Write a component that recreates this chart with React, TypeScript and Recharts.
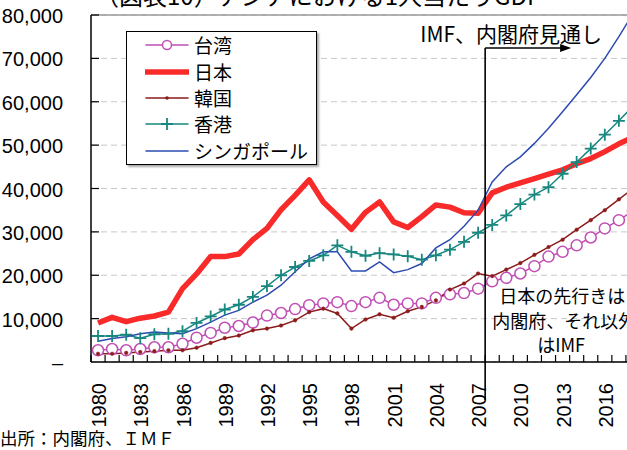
import { LineChart, Line, XAxis, YAxis, CartesianGrid, ReferenceLine, Legend } from 'recharts'

const JP = '"Noto Sans CJK JP", sans-serif'
const NUM = '"Liberation Sans", Arial, sans-serif'

const YEARS = [
  1980, 1981, 1982, 1983, 1984, 1985, 1986, 1987, 1988, 1989,
  1990, 1991, 1992, 1993, 1994, 1995, 1996, 1997, 1998, 1999,
  2000, 2001, 2002, 2003, 2004, 2005, 2006, 2007, 2008, 2009,
  2010, 2011, 2012, 2013, 2014, 2015, 2016, 2017, 2018
]
const LABEL_YEARS = [1980, 1983, 1986, 1989, 1992, 1995, 1998, 2001, 2004, 2007, 2010, 2013, 2016]
const Y_TICKS = [0, 10000, 20000, 30000, 40000, 50000, 60000, 70000, 80000]
const NAMES = ['台湾', '日本', '韓国', '香港', 'シンガポール']

// USD per person
const TAIWAN = [
  2700, 3000, 2700, 3000, 3400, 3400, 4200, 5600, 6700, 7900,
  8300, 9100, 10700, 11300, 12200, 13100, 13500, 13800, 12900, 13800,
  14800, 13200, 13500, 13500, 14800, 15600, 15900, 16900, 18600, 19400,
  20400, 22100, 24300, 25400, 26900, 28700, 30800, 32700, 34800
]
const JAPAN = [
  9000, 10300, 9300, 10100, 10600, 11500, 16900, 20300, 24300, 24300,
  24900, 28200, 30800, 35100, 38400, 42000, 36900, 33800, 30600, 34500,
  36900, 32300, 31000, 33500, 36200, 35700, 34400, 34300, 39000, 40300,
  41300, 42300, 43300, 44300, 45700, 46900, 48500, 50300, 51800
]
const KOREA = [
  1900, 1900, 2100, 2300, 2500, 2700, 2700, 3300, 4400, 5500,
  6100, 7300, 7700, 8400, 9600, 11500, 12300, 11200, 7700, 9800,
  11000, 10200, 11700, 12700, 14200, 16700, 18100, 20400, 19800, 21300,
  22800, 24700, 26500, 28200, 30500, 32700, 35000, 37500, 40000
]
const HONGKONG = [
  6000, 6000, 6300, 5500, 6400, 6500, 7100, 9000, 10500, 12100,
  13200, 15000, 17500, 20000, 21900, 23300, 24600, 26900, 25400, 24500,
  25100, 24800, 24400, 23600, 24600, 25900, 27700, 29800, 31600, 33800,
  36400, 38600, 40300, 43400, 46100, 49200, 52400, 55600, 59000
]
const SINGAPORE = [
  4800, 5400, 5800, 6500, 6900, 6700, 6500, 7700, 9200, 10800,
  11900, 13800, 15400, 17700, 20800, 23800, 25400, 25400, 21000, 21000,
  23100, 20600, 21300, 22700, 26300, 28200, 31300, 35000, 41500, 45000,
  47300, 50400, 53900, 57700, 61600, 65600, 70000, 75000, 80300
]

const data = YEARS.map((year, i) => ({
  year,
  taiwan: TAIWAN[i],
  japan: JAPAN[i],
  korea: KOREA[i],
  hongkong: HONGKONG[i],
  singapore: SINGAPORE[i]
}))

const CHART_W = 645
const Y_AXIS_W = 91
const PLOT_W = CHART_W - Y_AXIS_W - 5
const BAND = PLOT_W / YEARS.length

const COLORS = {
  taiwan: '#c04fb4',
  japan: '#f82a2a',
  korea: '#8c1c1c',
  hongkong: '#17877f',
  singapore: '#2d4bb0'
}

function XTick({ x, y, payload }: any) {
  const year = payload.value
  return (
    <g>
      <line x1={x - BAND / 2} y1={y} x2={x - BAND / 2} y2={y - 7} stroke="#000" strokeWidth={1.2} />
      {LABEL_YEARS.includes(year) && (
        <text
          transform={`translate(${x + 1},${y + 21}) rotate(-90)`}
          textAnchor="end"
          dominantBaseline="central"
          fontSize={20}
          fontFamily={NUM}
          fill="#000"
        >
          {year}
        </text>
      )}
    </g>
  )
}

function YTick({ x, y, payload }: any) {
  const v = payload.value
  return (
    <g>
      {v > 0 && <line x1={x} y1={y} x2={x + 8} y2={y} stroke="#000" strokeWidth={1.2} />}
      <text x={x - 28} y={y + 1} textAnchor="end" dominantBaseline="central" fontSize={20} fontFamily={NUM} fill="#000">
        {v === 0 ? '–' : v.toLocaleString('en-US')}
      </text>
    </g>
  )
}

function PlusDot(props: any) {
  const { cx, cy, stroke, index } = props
  if (cx == null || cy == null) return null
  return (
    <path
      key={`hk-${index}`}
      d={`M${cx - 6},${cy}H${cx + 6}M${cx},${cy - 6}V${cy + 6}`}
      stroke={stroke}
      strokeWidth={1.8}
      fill="none"
    />
  )
}

// boundary between actuals and outlook, with arrow and notes
function ForecastMarker(props: any) {
  const { x1, y1, y2 } = props
  const top = Math.min(y1, y2)
  const bottom = Math.max(y1, y2)
  const ay = top + 33
  return (
    <g>
      <line x1={x1} y1={ay} x2={x1} y2={bottom + 38} stroke="#000" strokeWidth={1.6} />
      <line x1={x1} y1={ay} x2={x1 + 78} y2={ay} stroke="#000" strokeWidth={1.6} />
      <polygon points={`${x1 + 86},${ay} ${x1 + 75},${ay - 4} ${x1 + 75},${ay + 4}`} fill="#000" />
      <text x={x1 + 26} y={top + 18} textAnchor="middle" dominantBaseline="central" fontSize={21} fontFamily={JP} fill="#000">
        IMF、内閣府見通し
      </text>
      <text textAnchor="middle" dominantBaseline="central" fontSize={18} fontFamily={JP} fill="#000">
        <tspan x={x1 + 77} y={bottom - 67}>日本の先行きは</tspan>
        <tspan x={x1 + 79} y={bottom - 42}>内閣府、それ以外</tspan>
        <tspan x={x1 + 76} y={bottom - 18}>はIMF</tspan>
      </text>
    </g>
  )
}

function LegendMarker({ name, color }: { name: string; color: string }) {
  return (
    <svg width={44} height={26}>
      <line x1={1} y1={13} x2={43} y2={13} stroke={color} strokeWidth={name === '日本' ? 5.5 : 1.5} strokeLinecap="round" />
      {name === '台湾' && <circle cx={22} cy={13} r={4.5} fill="#fff" stroke={color} strokeWidth={1.5} />}
      {name === '韓国' && <circle cx={22} cy={13} r={1.8} fill={color} />}
      {name === '香港' && <path d="M16,13H28M22,7V19" stroke={color} strokeWidth={1.8} />}
    </svg>
  )
}

function LegendBox({ payload }: any) {
  const items = [...(payload || [])].sort((a: any, b: any) => NAMES.indexOf(a.value) - NAMES.indexOf(b.value))
  return (
    <div
      style={{
        border: '1px solid #000',
        background: '#fff',
        boxShadow: '2px 2px 2px rgba(0,0,0,0.35)',
        width: 189,
        fontFamily: JP,
        fontSize: 19,
        color: '#000'
      }}
    >
      {items.map((item: any) => (
        <div key={item.value} style={{ display: 'flex', alignItems: 'center', height: 26.4, paddingLeft: 18 }}>
          <LegendMarker name={item.value} color={item.color} />
          <span style={{ marginLeft: 5, lineHeight: '26px' }}>{item.value}</span>
        </div>
      ))}
    </div>
  )
}

export default function App() {
  return (
    <div style={{ position: 'absolute', left: 0, top: 0, width: 627, height: 450, overflow: 'hidden', background: '#fff' }}>
      <LineChart width={CHART_W} height={450} data={data} margin={{ top: 15, right: 5, bottom: 18, left: 0 }}>
        <CartesianGrid vertical={false} stroke="#c8c8c8" strokeDasharray="6 4" />
        <XAxis
          dataKey="year"
          type="number"
          domain={[1979.5, 2018.5]}
          ticks={YEARS}
          interval={0}
          height={70}
          tickSize={0}
          tickMargin={0}
          tickLine={false}
          tick={<XTick />}
          axisLine={{ stroke: '#000', strokeWidth: 1.5 }}
        />
        <YAxis
          type="number"
          domain={[0, 80000]}
          ticks={Y_TICKS}
          interval={0}
          allowDataOverflow
          width={Y_AXIS_W}
          tickSize={0}
          tickMargin={0}
          tickLine={false}
          tick={<YTick />}
          axisLine={{ stroke: '#000', strokeWidth: 1.5 }}
        />
        <ReferenceLine y={80000} stroke="#9a9a9a" strokeWidth={1.5} />
        <Legend
          layout="horizontal"
          verticalAlign="middle"
          align="center"
          content={<LegendBox />}
          wrapperStyle={{ left: 126, top: 31, width: 191 }}
        />
        <Line
          dataKey="taiwan"
          name="台湾"
          stroke={COLORS.taiwan}
          strokeWidth={1.5}
          dot={{ r: 5.5, fill: '#fff', stroke: COLORS.taiwan, strokeWidth: 1.5 }}
          activeDot={false}
          isAnimationActive={false}
        />
        <Line
          dataKey="japan"
          name="日本"
          stroke={COLORS.japan}
          strokeWidth={5.5}
          strokeLinejoin="round"
          dot={false}
          activeDot={false}
          isAnimationActive={false}
        />
        <Line
          dataKey="korea"
          name="韓国"
          stroke={COLORS.korea}
          strokeWidth={1.5}
          dot={{ r: 1.8, fill: COLORS.korea, stroke: COLORS.korea, strokeWidth: 0.5 }}
          activeDot={false}
          isAnimationActive={false}
        />
        <Line
          dataKey="hongkong"
          name="香港"
          stroke={COLORS.hongkong}
          strokeWidth={1.5}
          dot={<PlusDot />}
          activeDot={false}
          isAnimationActive={false}
        />
        <Line
          dataKey="singapore"
          name="シンガポール"
          stroke={COLORS.singapore}
          strokeWidth={1.5}
          dot={false}
          activeDot={false}
          isAnimationActive={false}
        />
        <ReferenceLine x={2007.5} stroke="#000" shape={<ForecastMarker />} />
      </LineChart>
      <div
        style={{
          position: 'absolute',
          left: 95,
          top: -17,
          fontFamily: JP,
          fontSize: 24,
          lineHeight: '24px',
          whiteSpace: 'nowrap',
          color: '#000'
        }}
      >
        （図表10）アジアにおける1人当たりGDP
      </div>
      <div
        style={{
          position: 'absolute',
          left: 0,
          top: 428,
          fontFamily: JP,
          fontSize: 17.5,
          lineHeight: '20px',
          whiteSpace: 'nowrap',
          color: '#000'
        }}
      >
        出所：内閣府、ＩＭＦ
      </div>
    </div>
  )
}
